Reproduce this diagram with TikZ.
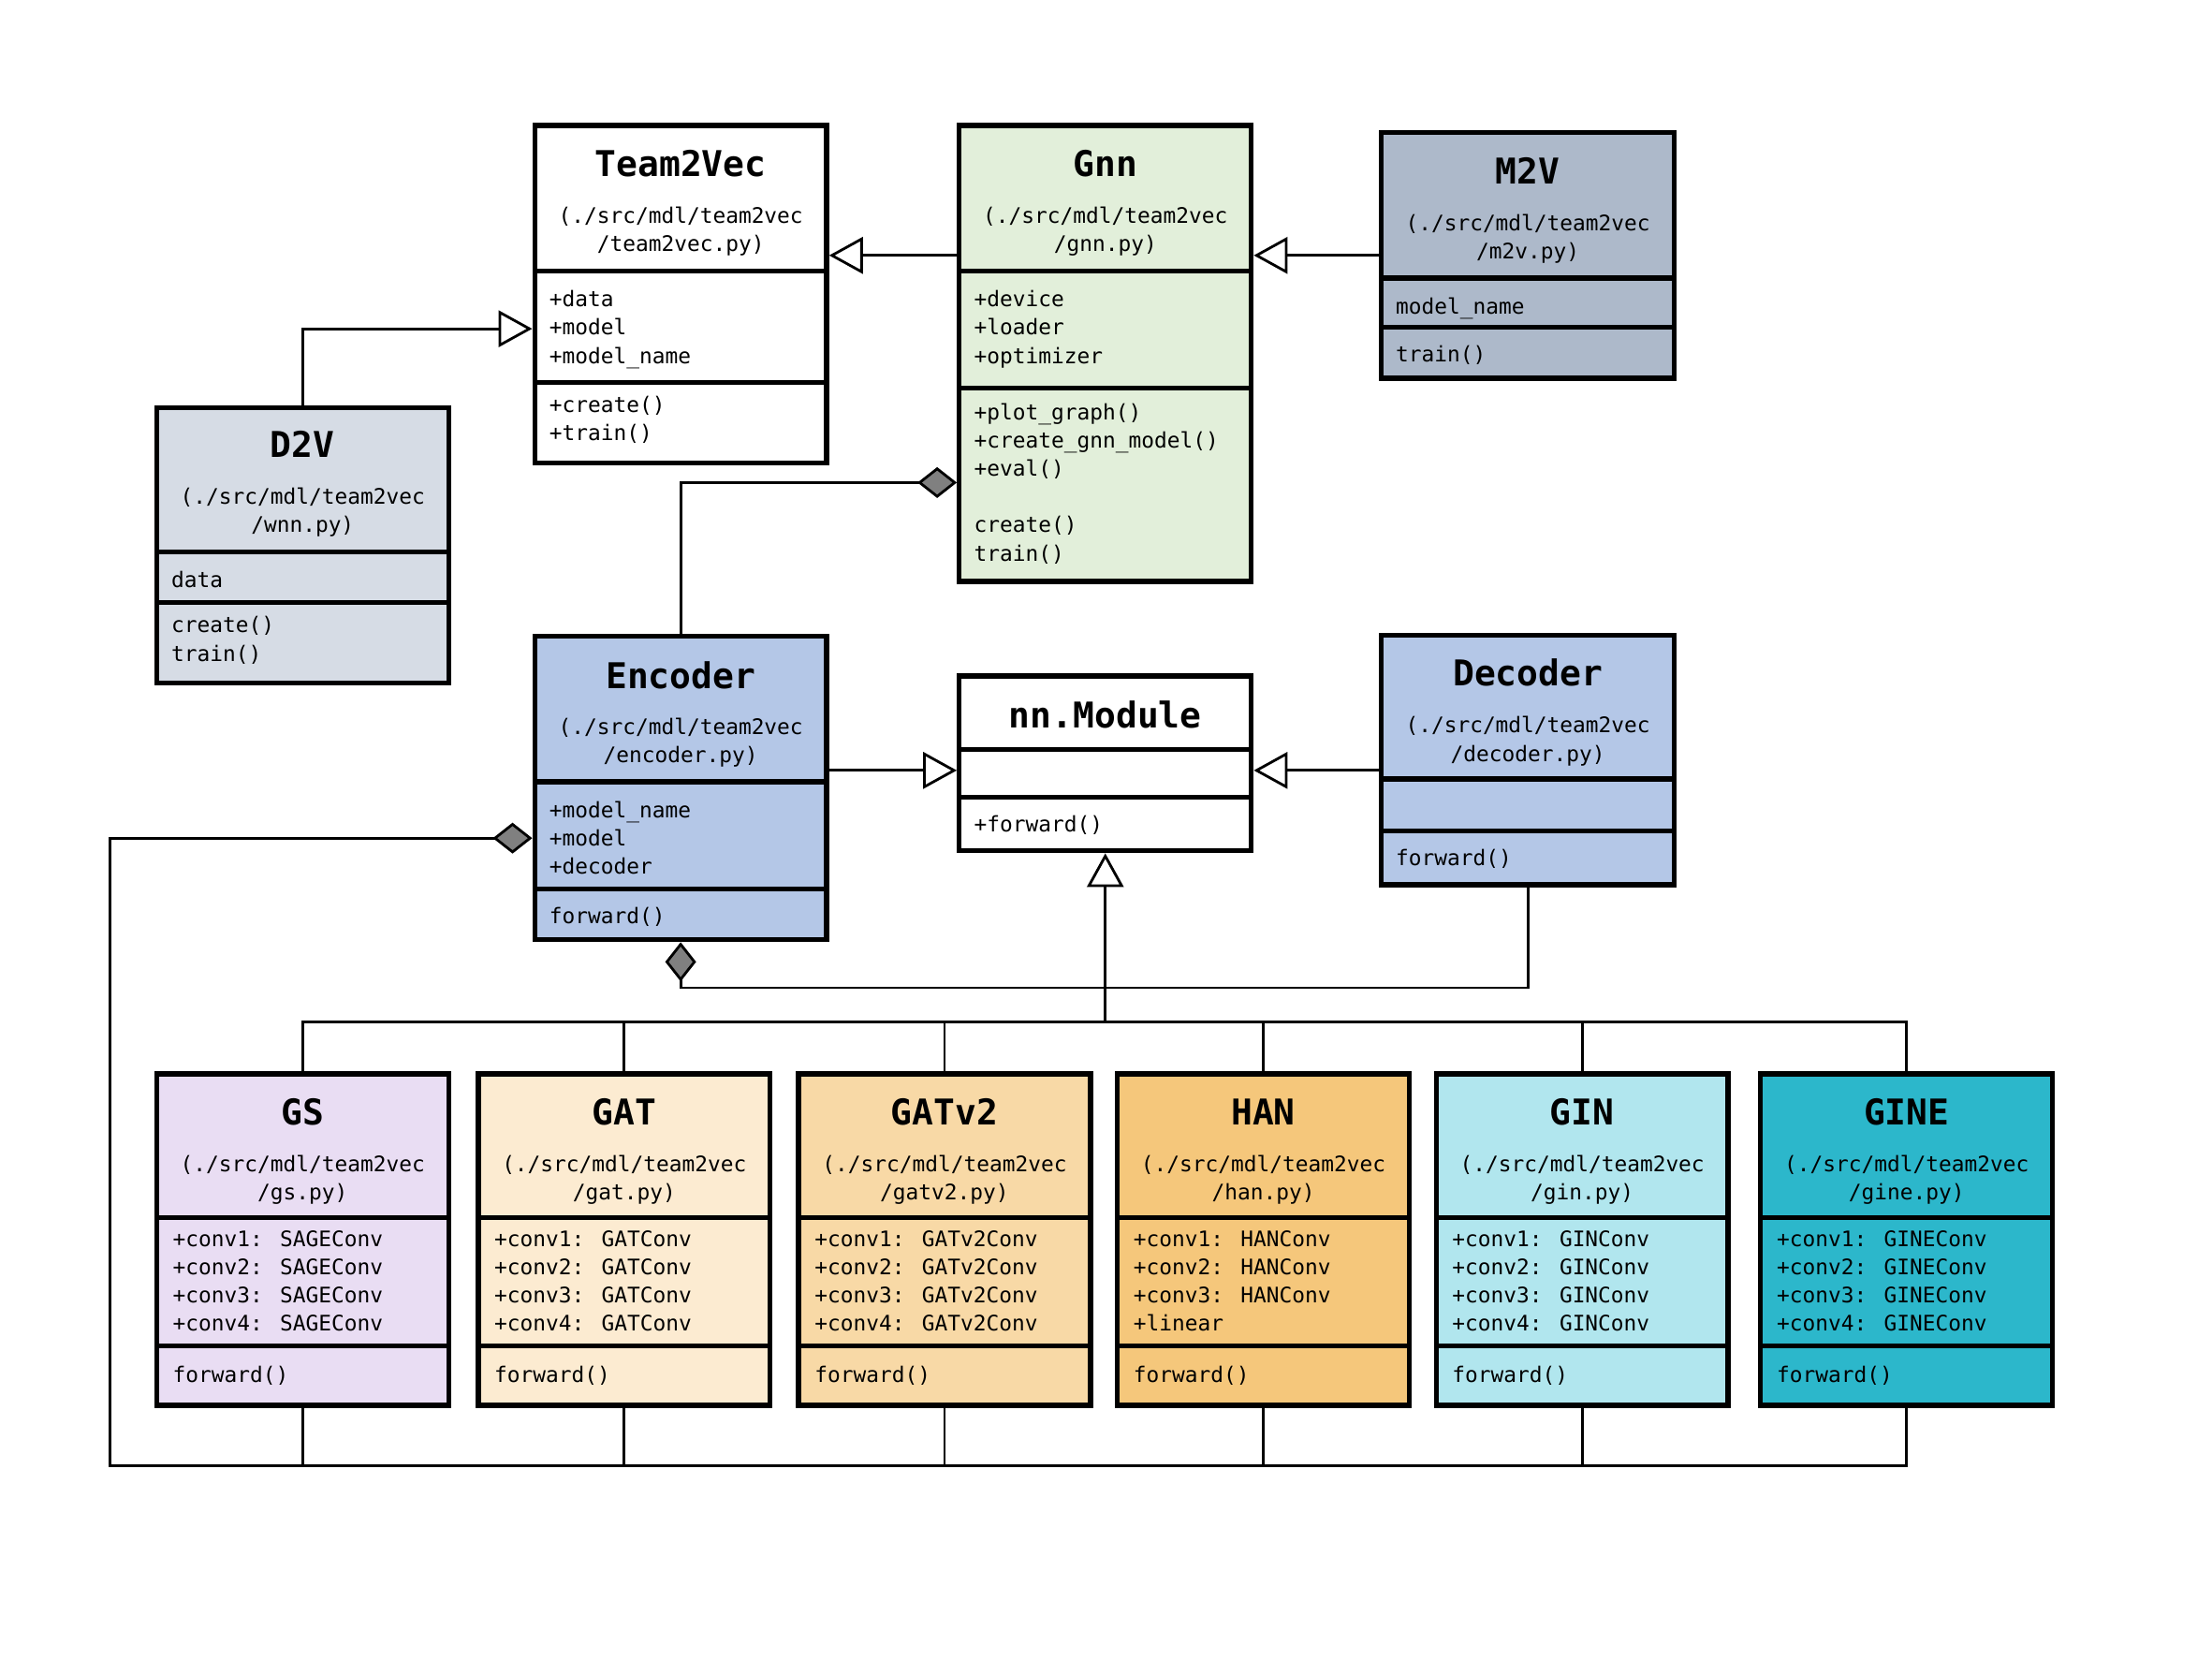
\documentclass[tikz,border=0pt]{standalone}
\usepackage{fontspec}
\newfontfamily\codefont{DejaVu Sans Mono}
\usetikzlibrary{arrows.meta,fit}

\definecolor{gnnfill}{HTML}{E2EFDA}
\definecolor{mvfill}{HTML}{ADB9CA}
\definecolor{dvfill}{HTML}{D6DCE5}
\definecolor{codecfill}{HTML}{B4C7E7}
\definecolor{gsfill}{HTML}{E9DDF3}
\definecolor{gatfill}{HTML}{FCEBD1}
\definecolor{gatvfill}{HTML}{F8D9A6}
\definecolor{hanfill}{HTML}{F5C77B}
\definecolor{ginfill}{HTML}{B1E6EE}
\definecolor{ginefill}{HTML}{2CB7CB}
\definecolor{diamondgray}{HTML}{808080}

\tikzset{
  clsbox/.style={draw, line width=1.5pt, inner sep=0pt},
  sepline/.style={line width=1.5pt},
  ttl/.style={font=\codefont\bfseries\fontsize{10.8}{13}\selectfont,
              inner sep=0pt, text height=7.9pt, text depth=0pt},
  txt/.style={font=\codefont\fontsize{6.5}{8}\selectfont,
              inner sep=0pt, text height=4.7pt, text depth=0pt},
  mem/.style={txt, anchor=west},
  conn/.style={line width=0.8pt},
  inh/.style={conn, -{Triangle[open, length=3.6mm, width=3.9mm]}},
  comp/.style={conn, -{Diamond[fill=diamondgray, length=4.2mm, width=3.3mm]}},
}

% one class of the convolution family in the bottom row
\newcommand\convclass[7]{%
  \pgfmathsetmacro\cx{#3+103.5}%
  \pgfmathsetmacro\rx{#3+207}%
  \pgfmathsetmacro\lx{#3+11}%
  \node[clsbox, fill=#2, fit={(#3,761)(\rx,996)}] (#1) {};
  \draw[sepline] (#3,863) -- (\rx,863);
  \draw[sepline] (#3,954) -- (\rx,954);
  \node[ttl] (#1-title) at (\cx,788) {#4};
  \node[txt] (#1-path) at (\cx,825) {(./src/mdl/team2vec};
  \node[txt] (#1-file) at (\cx,845) {/#5)};
  \node[mem] (#1-m1) at (\lx,878) {+conv1: #6};
  \node[mem] (#1-m2) at (\lx,898) {+conv2: #6};
  \node[mem] (#1-m3) at (\lx,918) {+conv3: #6};
  \node[mem] (#1-m4) at (\lx,938) {#7};
  \node[mem] (#1-fwd) at (\lx,974) {forward()};
}

\begin{document}
\begin{tikzpicture}[x=0.01507cm, y=-0.01507cm]
\path[use as bounding box] (0,0) rectangle (1568,1176);

% ---------------- Team2Vec ----------------
\node[clsbox, fill=white, fit={(379,89)(586,328)}] (team) {};
\draw[sepline] (379,192) -- (586,192);
\draw[sepline] (379,271) -- (586,271);
\node[ttl] (team-title) at (482.5,116) {Team2Vec};
\node[txt] (team-path) at (482.5,153) {(./src/mdl/team2vec};
\node[txt] (team-file) at (482.5,173) {/team2vec.py)};
\node[mem] (team-a1) at (389,212) {+data};
\node[mem] (team-a2) at (389,232) {+model};
\node[mem] (team-a3) at (389,252) {+model\_name};
\node[mem] (team-o1) at (389,287) {+create()};
\node[mem] (team-o2) at (389,307) {+train()};

% ---------------- Gnn ----------------
\node[clsbox, fill=gnnfill, fit={(680,89)(887,412)}] (gnn) {};
\draw[sepline] (680,192) -- (887,192);
\draw[sepline] (680,275) -- (887,275);
\node[ttl] (gnn-title) at (783.5,116) {Gnn};
\node[txt] (gnn-path) at (783.5,153) {(./src/mdl/team2vec};
\node[txt] (gnn-file) at (783.5,173) {/gnn.py)};
\node[mem] (gnn-a1) at (690,212) {+device};
\node[mem] (gnn-a2) at (690,232) {+loader};
\node[mem] (gnn-a3) at (690,252) {+optimizer};
\node[mem] (gnn-o1) at (690,292) {+plot\_graph()};
\node[mem] (gnn-o2) at (690,312) {+create\_gnn\_model()};
\node[mem] (gnn-o3) at (690,332) {+eval()};
\node[mem] (gnn-o4) at (690,372) {create()};
\node[mem] (gnn-o5) at (690,392) {train()};

% ---------------- M2V ----------------
\node[clsbox, fill=mvfill, fit={(979,94)(1187,268)}] (m2v) {};
\draw[sepline] (979,197) -- (1187,197);
\draw[sepline] (979,232) -- (1187,232);
\node[ttl] (m2v-title) at (1083,121) {M2V};
\node[txt] (m2v-path) at (1083,158) {(./src/mdl/team2vec};
\node[txt] (m2v-file) at (1083,178) {/m2v.py)};
\node[mem] (m2v-a1) at (989,217) {model\_name};
\node[mem] (m2v-o1) at (989,251) {train()};

% ---------------- D2V ----------------
\node[clsbox, fill=dvfill, fit={(111,289)(318,484)}] (d2v) {};
\draw[sepline] (111,391) -- (318,391);
\draw[sepline] (111,427) -- (318,427);
\node[ttl] (d2v-title) at (214.5,315) {D2V};
\node[txt] (d2v-path) at (214.5,352) {(./src/mdl/team2vec};
\node[txt] (d2v-file) at (214.5,372) {/wnn.py)};
\node[mem] (d2v-a1) at (121,411) {data};
\node[mem] (d2v-o1) at (121,443) {create()};
\node[mem] (d2v-o2) at (121,463) {train()};

% ---------------- Encoder ----------------
\node[clsbox, fill=codecfill, fit={(379,451)(586,666)}] (enc) {};
\draw[sepline] (379,554) -- (586,554);
\draw[sepline] (379,630) -- (586,630);
\node[ttl] (enc-title) at (482.5,479) {Encoder};
\node[txt] (enc-path) at (482.5,515) {(./src/mdl/team2vec};
\node[txt] (enc-file) at (482.5,535) {/encoder.py)};
\node[mem] (enc-a1) at (389,574) {+model\_name};
\node[mem] (enc-a2) at (389,594) {+model};
\node[mem] (enc-a3) at (389,614) {+decoder};
\node[mem] (enc-o1) at (389,649) {forward()};

% ---------------- nn.Module ----------------
\node[clsbox, fill=white, fit={(680,479)(887,603)}] (nnm) {};
\draw[sepline] (680,531) -- (887,531);
\draw[sepline] (680,565) -- (887,565);
\node[ttl] (nnm-title) at (783.5,507) {nn.Module};
\node[mem] (nnm-o1) at (690,584) {+forward()};

% ---------------- Decoder ----------------
\node[clsbox, fill=codecfill, fit={(979,450)(1187,627)}] (dec) {};
\draw[sepline] (979,552) -- (1187,552);
\draw[sepline] (979,589) -- (1187,589);
\node[ttl] (dec-title) at (1083,477) {Decoder};
\node[txt] (dec-path) at (1083,514) {(./src/mdl/team2vec};
\node[txt] (dec-file) at (1083,534) {/decoder.py)};
\node[mem] (dec-o1) at (989,608) {forward()};

% ---------------- convolution models ----------------
\convclass{gs}{gsfill}{111}{GS}{gs.py}{SAGEConv}{+conv4: SAGEConv}
\convclass{gat}{gatfill}{339}{GAT}{gat.py}{GATConv}{+conv4: GATConv}
\convclass{gatv}{gatvfill}{566}{GATv2}{gatv2.py}{GATv2Conv}{+conv4: GATv2Conv}
\convclass{han}{hanfill}{792}{HAN}{han.py}{HANConv}{+linear}
\convclass{gin}{ginfill}{1018}{GIN}{gin.py}{GINConv}{+conv4: GINConv}
\convclass{gine}{ginefill}{1248}{GINE}{gine.py}{GINEConv}{+conv4: GINEConv}

% ---------------- connector levels ----------------
\coordinate (lvlA) at (0,181);
\coordinate (lvlB) at (0,233);
\coordinate (lvlC) at (0,342);
\coordinate (lvlD) at (0,546);
\coordinate (lvlE) at (0,700);
\coordinate (lvlF) at (0,594);
\coordinate (bus) at (0,724);
\coordinate (lowbus) at (78,1039);

% generalisations
\draw[inh] (gnn.west |- lvlA) -- (team.east |- lvlA);
\draw[inh] (m2v.west |- lvlA) -- (gnn.east |- lvlA);
\draw[inh] (d2v.north) |- (team.west |- lvlB);
\draw[inh] (enc.east |- lvlD) -- (nnm.west |- lvlD);
\draw[inh] (dec.west |- lvlD) -- (nnm.east |- lvlD);

% compositions
\draw[comp] (enc.north) |- (gnn.west |- lvlC);
\draw[comp] (dec.south) |- (enc.south |- lvlE) -- (enc.south);

% model family inherits from nn.Module
\draw[conn] (gs.north) |- (gine.north |- bus) -- (gine.north);
\foreach \m in {gat,gatv,han,gin}
  \draw[conn] (\m.north) -- (\m.north |- bus);
\draw[inh] (nnm.south |- bus) -- (nnm.south);

% model family is composed into the Encoder
\foreach \m in {gs,gat,gatv,han,gin}
  \draw[conn] (\m.south) -- (\m.south |- lowbus);
\draw[comp] (gine.south) |- (lowbus) |- (enc.west |- lvlF);

\end{tikzpicture}
\end{document}
